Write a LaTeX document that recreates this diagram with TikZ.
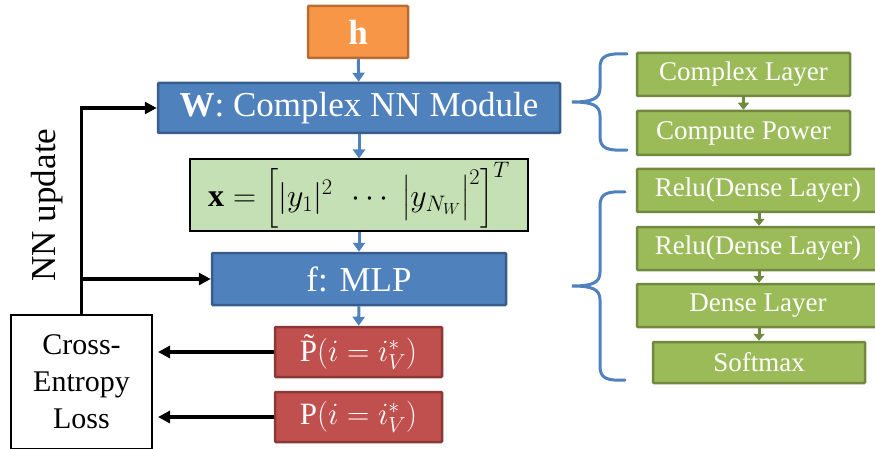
\RequirePackage{fix-cm}
\documentclass[tikz,border=0pt]{standalone}
\usepackage{amsmath}
\usepackage{fontspec}
\setmainfont{Liberation Serif}
\usetikzlibrary{arrows.meta,positioning}
\definecolor{orfond}{HTML}{F79646}
\definecolor{orbord}{HTML}{B96B31}
\definecolor{blfond}{HTML}{4F81BD}
\definecolor{blbord}{HTML}{385D8A}
\definecolor{rgfond}{HTML}{C0504D}
\definecolor{rgbord}{HTML}{8C3836}
\definecolor{vtfond}{HTML}{9BBB59}
\definecolor{vtbord}{HTML}{71893F}
\definecolor{vtclair}{HTML}{C5E0B4}

\begin{document}
\begin{tikzpicture}[x=1pt,y=-1pt,
  bloc/.style={draw,line width=2.5pt,inner sep=0pt,text=white,rounded corners=1pt},
  couche/.style={bloc,fill=vtfond,draw=vtbord,minimum height=43pt,font=\fontsize{27}{30}\selectfont},
  fbleue/.style={blfond,line width=3pt,-{Triangle[length=9pt,width=12pt]}},
  fverte/.style={vtbord,line width=3pt,-{Triangle[length=7pt,width=11pt]}},
  retour/.style={line width=3.5pt,-{Triangle[length=12pt,width=12pt]}},
  accol/.style={blfond,line width=3pt,line cap=round}]
\useasboundingbox (0,0) rectangle (875,449);
% Blocs
\node[bloc,fill=orfond,draw=orbord,minimum width=100pt,minimum height=52pt,font=\fontsize{35}{40}\bfseries] (hin) at (358,32) {h};
\node[bloc,fill=blfond,draw=blbord,minimum width=402pt,minimum height=50pt,font=\fontsize{35}{40}\selectfont] (wmod) at (359,108) {\textbf{W}: Complex NN Module};
\node[draw,line width=2pt,fill=vtclair,minimum width=338pt,minimum height=71pt,inner sep=0pt,font=\fontsize{32}{36}\selectfont] (xvec) at (359,195)
  {$\mathbf{x}=\Bigl[|y_1|^2\ \,\cdots\ \bigl|y_{N_W}\bigr|^2\Bigr]^T$};
\node[bloc,fill=blfond,draw=blbord,minimum width=294pt,minimum height=52pt,font=\fontsize{35}{40}\selectfont] (fmlp) at (359,279) {f: MLP};
\node[bloc,fill=rgfond,draw=rgbord,minimum width=167pt,minimum height=50pt,font=\fontsize{31}{34}\selectfont] (ptilde) at (358.5,352) {\~{P}$(i=i_V^*)$};
\node[bloc,fill=rgfond,draw=rgbord,minimum width=167pt,minimum height=50pt,font=\fontsize{31}{34}\selectfont] (pvrai) at (358.5,417) {P$(i=i_V^*)$};
\node[draw,line width=2pt,minimum width=141pt,minimum height=134pt,align=center,font=\fontsize{30}{37}\selectfont] (loss) at (81.5,382) {Cross-\\Entropy\\Loss};
\node[rotate=90,font=\fontsize{35}{40}\selectfont] (maj) at (47,205) {NN update};
% Flèches
\draw[fbleue] (hin) -- (wmod);
\draw[fbleue] (wmod) -- (xvec);
\draw[fbleue] (xvec) -- (fmlp);
\draw[fbleue] (fmlp) -- (ptilde);
\draw[retour,shorten >=5pt] (ptilde.west) -- (ptilde.west -| loss.east);
\draw[retour,shorten >=5pt] (pvrai.west) -- (pvrai.west -| loss.east);
\draw[retour] (loss.north) |- (wmod.west);
\draw[retour] (loss.north) |- (fmlp.west);
% Détails à droite
\node[couche,minimum width=213pt] (cplx) at (743.5,74.5) {Complex Layer};
\node[couche,minimum width=213pt,minimum height=44pt] (cpow) at (743.5,133) {Compute Power};
\node[couche,minimum width=242pt] (relua) at (758,190.5) {Relu(Dense Layer)};
\node[couche,minimum width=242pt] (relub) at (758,248.5) {Relu(Dense Layer)};
\node[couche,minimum width=242pt] (dense) at (758,305.5) {Dense Layer};
\node[couche,minimum width=212pt,minimum height=41pt] (softmax) at (759,362.5) {Softmax};
\draw[fverte] (cplx) -- (cpow);
\draw[fverte] (relua.south -| softmax) -- (relub.north -| softmax);
\draw[fverte] (relub.south -| softmax) -- (dense.north -| softmax);
\draw[fverte] (dense.south -| softmax) -- (softmax.north);
% Accolades
\draw[accol] (627,54) .. controls (606,53) and (600,56) .. (600,68) -- (600,88)
  .. controls (600,99) and (592,102) .. (572,102) .. controls (592,102) and (600,105) .. (600,116)
  -- (600,136) .. controls (600,148) and (606,151) .. (627,150);
\draw[accol] (625,192) .. controls (606,191) and (600,194) .. (600,206) -- (600,272)
  .. controls (600,283) and (592,286) .. (572,286) .. controls (592,286) and (600,289) .. (600,300)
  -- (600,366) .. controls (600,378) and (606,381) .. (625,380);
\end{tikzpicture}
\end{document}
